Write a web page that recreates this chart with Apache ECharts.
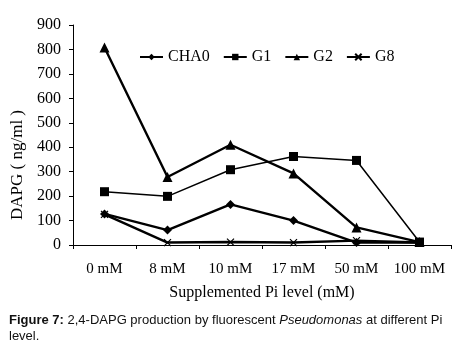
<!DOCTYPE html>
<html>
<head>
<meta charset="utf-8">
<script src="https://cdn.jsdelivr.net/npm/echarts@6/dist/echarts.min.js"></script>
<style>
  html, body { margin: 0; padding: 0; background: #fff; }
  #chart { width: 457px; height: 354px; }
</style>
</head>
<body>
<div id="chart"></div>
<script>
var categories = ['0 mM', '8 mM', '10 mM', '17 mM', '50 mM', '100 mM'];
var cha0 = [127, 61, 166, 100, 10, 10];
var g1 = [218, 199, 308, 362, 346, 12];
var g2 = [808, 278, 410, 293, 72, 12];
var g8 = [125, 10, 12, 10, 18, 10];
var yTicks = [0, 100, 200, 300, 400, 500, 600, 700, 800, 900];

var crossPath = 'path://M0,0L10,10M10,0L0,10';
var serif = 'Liberation Serif';

var myChart = echarts.init(document.getElementById('chart'));

function makeSeries(name, data, symbol, size, width) {
    return {
        name: name,
        type: 'line',
        data: data,
        symbol: symbol,
        symbolSize: size,
        showAllSymbol: true,
        lineStyle: { color: '#000', width: width },
        itemStyle: symbol == crossPath
            ? { color: 'none', borderColor: '#000', borderWidth: 1.2 }
            : { color: '#000', borderColor: '#000', borderWidth: 0 },
        emphasis: { disabled: true },
        animation: false,
        z: 2
    };
}

var option = {
    backgroundColor: '#fff',
    animation: false,
    title: {
        left: 9,
        top: 312,
        padding: 0,
        text: '{b|Figure 7:} 2,4-DAPG production by fluorescent {i|Pseudomonas} at different Pi\nlevel.',
        textStyle: {
            fontFamily: 'Liberation Sans',
            fontSize: 13,
            fontWeight: 'normal',
            color: '#111',
            lineHeight: 16,
            rich: {
                b: { fontFamily: 'Liberation Sans', fontSize: 13, fontWeight: 'bold', color: '#111' },
                i: { fontFamily: 'Liberation Sans', fontSize: 13, fontStyle: 'italic', color: '#111' }
            }
        }
    },
    legend: {
        left: 134,
        top: 44,
        itemGap: 13,
        itemWidth: 23,
        itemHeight: 8,
        textStyle: { fontFamily: serif, fontSize: 16, color: '#000' },
        data: ['CHA0', 'G1', 'G2', 'G8']
    },
    grid: {
        left: 73,
        right: 6,
        top: 25,
        bottom: 109,
        containLabel: false
    },
    xAxis: {
        type: 'category',
        data: categories,
        boundaryGap: true,
        name: 'Supplemented Pi level (mM)',
        nameLocation: 'middle',
        nameGap: 40,
        nameTextStyle: { fontFamily: serif, fontSize: 16, color: '#000' },
        axisLine: { lineStyle: { color: '#000', width: 1 } },
        axisTick: { show: true, length: 4, inside: false, lineStyle: { color: '#000' } },
        axisLabel: { interval: 0, fontFamily: serif, fontSize: 15, color: '#000', margin: 17 },
        splitLine: { show: false }
    },
    yAxis: {
        type: 'value',
        min: yTicks[0],
        max: yTicks[yTicks.length - 1],
        interval: 100,
        name: 'DAPG ( ng/ml )',
        nameLocation: 'middle',
        nameGap: 46,
        nameTextStyle: { fontFamily: serif, fontSize: 17, color: '#000', padding: [0, 60, 0, 0] },
        axisLine: { show: true, lineStyle: { color: '#000', width: 1 } },
        axisTick: { show: true, length: 4, inside: false, lineStyle: { color: '#000' } },
        axisLabel: { fontFamily: serif, fontSize: 16, color: '#000', margin: 12 },
        splitLine: { show: false }
    },
    series: [
        makeSeries('CHA0', cha0, 'diamond', 9, 2.4),
        makeSeries('G1', g1, 'rect', 9, 1.5),
        makeSeries('G2', g2, 'triangle', 10, 2.4),
        makeSeries('G8', g8, crossPath, 7, 2.4)
    ]
};

myChart.setOption(option);
</script>
</body>
</html>
